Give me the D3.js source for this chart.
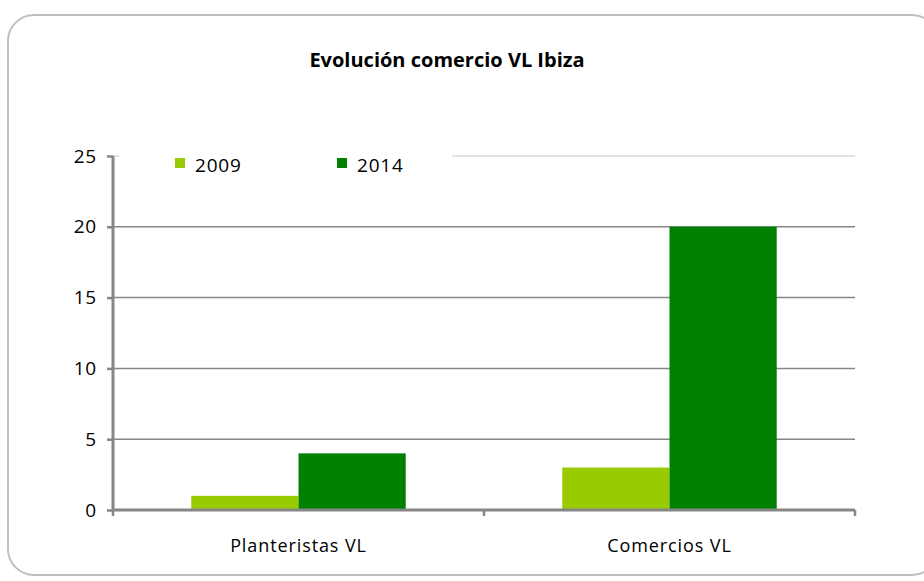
<!DOCTYPE html>
<html>
<head>
<meta charset="utf-8">
<script src="https://cdn.jsdelivr.net/npm/d3@7"></script>
<style>
  body { margin: 0; background: #fff; }
  svg { display: block; font-family: "Open Sans", sans-serif; }
</style>
</head>
<body>
<div id="chart"></div>
<script>
var categories = ["Planteristas VL", "Comercios VL"];
var years = ["2009", "2014"];
var values2009 = [1, 3];
var values2014 = [4, 20];
var yTicks = [0, 5, 10, 15, 20, 25];
var colors = ["#99cc00", "#008000"];

var W = 924, H = 581;
var margin = {top: 156, right: 69, bottom: 71, left: 113},
    width = W - margin.left - margin.right,
    height = H - margin.top - margin.bottom;

var svg = d3.select("#chart").append("svg")
  .attr("width", W)
  .attr("height", H);

// frame
svg.append("rect")
  .attr("x", 8).attr("y", 15)
  .attr("width", 930).attr("height", 560)
  .attr("rx", 26).attr("ry", 26)
  .attr("fill", "#fff")
  .attr("stroke", "#bfbfbf")
  .attr("stroke-width", 2);

svg.append("text")
  .attr("x", 447).attr("y", 67)
  .attr("text-anchor", "middle")
  .style("font-size", "20px")
  .style("font-weight", "bold")
  .text("Evolución comercio VL Ibiza");

var g = svg.append("g")
  .attr("transform", "translate(" + margin.left + "," + margin.top + ")");

var x = d3.scaleBand().domain(categories).range([0, width]).paddingInner(0).paddingOuter(0);
var x1 = d3.scaleBand().domain(years).range([0, x.bandwidth() * 0.578]).padding(0);
var y = d3.scaleLinear().domain([0, 25]).range([height, 0]);

// gridlines
g.selectAll(".grid").data(yTicks.filter(function(d) { return d > 0; }))
  .enter().append("line")
  .attr("x1", 0).attr("x2", width)
  .attr("y1", function(d) { return y(d); })
  .attr("y2", function(d) { return y(d); })
  .attr("stroke", function(d) { return d == 25 ? "#e3e3e3" : "#868686"; })
  .attr("stroke-width", function(d) { return d == 25 ? 2 : 1.5; });

// bars
var data = [];
categories.forEach(function(c, i) {
  data.push({cat: c, year: "2009", value: values2009[i]});
  data.push({cat: c, year: "2014", value: values2014[i]});
});

var off = (x.bandwidth() - x1.range()[1]) / 2;
g.selectAll(".bar").data(data).enter().append("rect")
  .attr("x", function(d) { return x(d.cat) + off + x1(d.year); })
  .attr("y", function(d) { return y(d.value); })
  .attr("width", x1.bandwidth())
  .attr("height", function(d) { return height - y(d.value); })
  .attr("fill", function(d) { return colors[years.indexOf(d.year)]; });

// legend background + items
g.append("rect")
  .attr("x", 6).attr("y", -4)
  .attr("width", 333).attr("height", 30)
  .attr("fill", "#fff");

var leg = g.selectAll(".leg").data(years).enter().append("g")
  .attr("transform", function(d, i) { return "translate(" + (62 + i * 162) + ",2)"; });
leg.append("rect")
  .attr("width", 10).attr("height", 10)
  .attr("fill", function(d, i) { return colors[i]; });
leg.append("text")
  .attr("x", 20).attr("y", 14)
  .style("font-size", "19px")
  .style("letter-spacing", "0.8px")
  .text(function(d) { return d; });

// axes
var yAxis = g.append("g")
  .call(d3.axisLeft(y).tickValues(yTicks).tickSize(6).tickPadding(10));
var xAxis = g.append("g")
  .attr("transform", "translate(0," + height + ")")
  .call(d3.axisBottom(x).tickSize(0).tickPadding(29));

xAxis.selectAll(".tick").append("line")
  .attr("x1", x.bandwidth() / 2).attr("x2", x.bandwidth() / 2)
  .attr("y1", 0).attr("y2", 6)
  .attr("stroke", "#868686").attr("stroke-width", 2.5);
g.append("line")
  .attr("x1", 0).attr("x2", 0).attr("y1", height).attr("y2", height + 6)
  .attr("stroke", "#868686").attr("stroke-width", 2.5);

[yAxis, xAxis].forEach(function(a) {
  a.attr("font-family", null).attr("font-size", null);
  a.select(".domain").attr("stroke", "#868686").attr("stroke-width", 3);
  a.selectAll(".tick line").attr("stroke", "#868686").attr("stroke-width", 2.5);
  a.selectAll("text").attr("fill", "#000")
    .style("font-family", "'Open Sans', sans-serif");
});
yAxis.selectAll("text").style("font-size", "19px").style("letter-spacing", "0.8px");
xAxis.selectAll("text").style("font-size", "18px").style("letter-spacing", "0.9px");
xAxis.select(".domain").attr("d", "M0,0H" + width);
yAxis.select(".domain").attr("d", "M0,0V" + height);
</script>
</body>
</html>
